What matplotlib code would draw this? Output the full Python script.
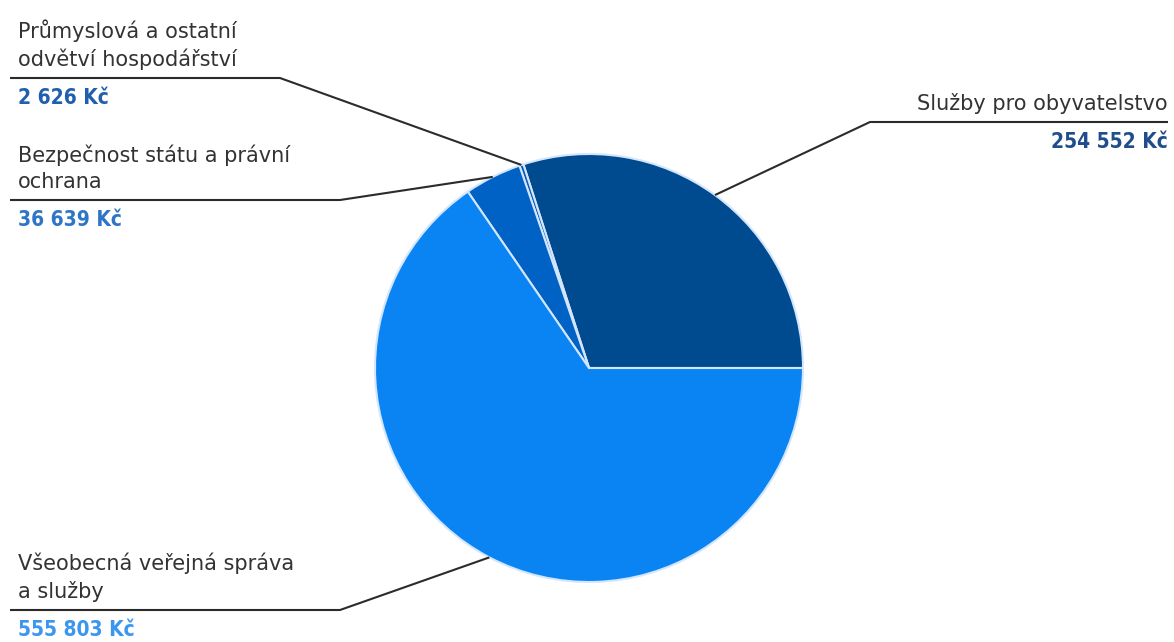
import matplotlib
matplotlib.use("Agg")
import matplotlib.pyplot as plt
import numpy as np

# Data
categories = [
    "Služby pro obyvatelstvo",
    "Průmyslová a ostatní\nodvětví hospodářství",
    "Bezpečnost státu a právní\nochrana",
    "Všeobecná veřejná správa\na služby",
]
values = [254552, 2626, 36639, 555803]
value_labels = ["254 552 Kč", "2 626 Kč", "36 639 Kč", "555 803 Kč"]

slice_colors = ["#004a8f", "#0a5cb8", "#0062c4", "#0a84f2"]
value_colors = ["#1f4e8a", "#1f5fae", "#2e75c8", "#3a96ee"]

# label layout (pixel coords: underline y, underline elbow x, side)
label_layout = [
    (122, 870, "right"),
    (78, 280, "left"),
    (200, 340, "left"),
    (610, 340, "left"),
]

W, H = 1174, 642
fig = plt.figure(figsize=(W / 100, H / 100), dpi=100)
ax = fig.add_axes([0, 0, 1, 1])

cx, cy, r = 589, H - 368, 214
wedges, _ = ax.pie(values, colors=slice_colors, startangle=0, counterclock=True,
                   center=(cx, cy), radius=r, frame=True,
                   wedgeprops=dict(edgecolor="#d4e6ff", linewidth=1.5))
ax.set_xlim(0, W)
ax.set_ylim(0, H)
ax.set_aspect("equal")
ax.axis("off")

text_color = "#333333"
line_color = "#2b2b2b"

for w, cat, vlab, vcol, (uy, ex, side) in zip(wedges, categories, value_labels,
                                              value_colors, label_layout):
    # leader line starts at the wedge's mid-angle on the rim
    mid = np.deg2rad((w.theta1 + w.theta2) / 2)
    px, py = cx + r * np.cos(mid), cy + r * np.sin(mid)
    y = H - uy
    if side == "left":
        xs = [10, ex, px]
        tx, ha = 18, "left"
    else:
        xs = [1168, ex, px]
        tx, ha = 1168, "right"
    ax.plot(xs, [y, y, py], color=line_color, linewidth=1.5,
            solid_capstyle="butt", zorder=5)
    ax.text(tx, y + 8, cat, ha=ha, va="bottom", fontsize=15,
            color=text_color, family="DejaVu Sans", linespacing=1.4)
    ax.text(tx, y - 10, vlab, ha=ha, va="top", fontsize=15,
            fontweight="bold", fontstretch="condensed", color=vcol,
            family=["DejaVu Sans"])

fig.savefig("out.png", dpi=100)
